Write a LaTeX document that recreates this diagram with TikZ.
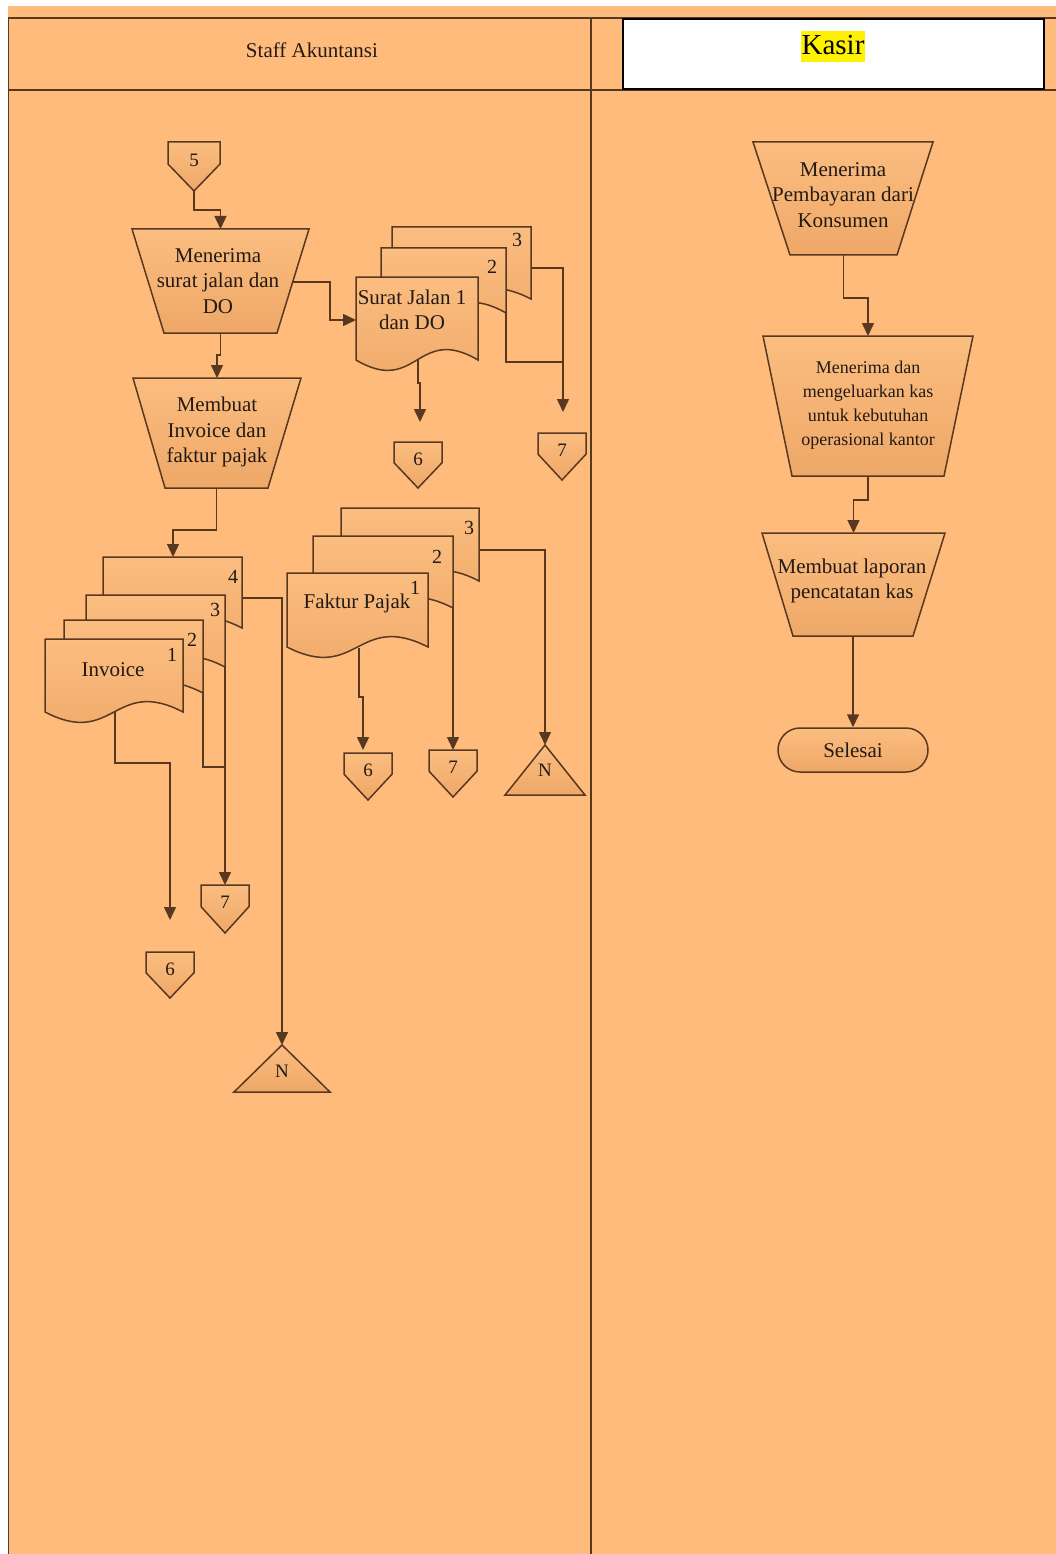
\documentclass[tikz,border=0pt]{standalone}
\usepackage{fontspec}
\setmainfont{Liberation Serif}
\usetikzlibrary{arrows.meta}

\definecolor{lanebg}{RGB}{254,187,124}
\definecolor{shapetop}{RGB}{251,189,128}
\definecolor{shapebot}{RGB}{238,168,104}
\definecolor{ink}{RGB}{88,57,32}
\definecolor{txt}{RGB}{35,26,20}

\tikzset{
  laneline/.style={draw=ink, line width=1.8pt},
  flowshape/.style={draw=ink, line width=1.5pt, top color=shapetop, bottom color=shapebot},
  conn/.style={draw=ink, line width=1.5pt},
  arr/.style={conn, -{Triangle[length=13pt,width=12pt]}},
  lbl/.style={text=txt, font=\fontsize{21}{25.5}\selectfont, align=center, inner sep=0pt},
  smalllbl/.style={lbl, font=\fontsize{18}{24}\selectfont},
  copyno/.style={lbl, font=\fontsize{20}{22}\selectfont},
  refno/.style={lbl, font=\fontsize{19}{20}\selectfont},
}

% manual operation (trapezium): name, top y, bottom y, top-left x, top-right x, bottom-left x, bottom-right x
\newcommand{\manop}[7]{%
  \path[flowshape] (#4,#2) -- (#5,#2) -- (#7,#3) -- (#6,#3) -- cycle;
  \coordinate (#1-n) at ({(#4+#5)/2},#2);
  \coordinate (#1-s) at ({(#6+#7)/2},#3);
}
% off-page reference: name, centre x, top y, width, height
\newcommand{\offpage}[5]{%
  \path[flowshape] ({#2-#4/2},#3) -- ({#2+#4/2},#3) -- ({#2+#4/2},{#3+0.45*#5})
    -- (#2,{#3+#5}) -- ({#2-#4/2},{#3+0.45*#5}) -- cycle;
  \coordinate (#1-n) at (#2,#3);
  \coordinate (#1-s) at (#2,{#3+#5});
}
% offline storage triangle: name, apex x, apex y, base y, half width
\newcommand{\mergetri}[5]{%
  \path[flowshape] (#2,#3) -- ({#2+#5},#4) -- ({#2-#5},#4) -- cycle;
  \coordinate (#1-n) at (#2,#3);
}
% document sheet with wavy lower edge: name, left, top, right, bottom
\newcommand{\docsh}[5]{%
  \path[flowshape] (#2,#3) -- (#4,#3) -- (#4,#5)
    .. controls ({(#2+#4)/2},{#5-36}) and ({(#2+#4)/2},{#5+36}) .. (#2,#5) -- cycle;
  \coordinate (#1-se) at (#4,#5);
}

\begin{document}
\begin{tikzpicture}[x=1pt,y=-1pt]
\useasboundingbox (0,0) rectangle (1056,1554);
\fill[white] (0,0) rectangle (1056,1554);
\fill[lanebg] (8,6) rectangle (1056,1554);

% swimlane frame
\draw[laneline] (8,18) -- (1056,18);
\draw[laneline] (8,90) -- (1056,90);
\draw[laneline] (8.5,18) -- (8.5,1554);
\draw[laneline] (591,18) -- (591,1554);

\node[draw=black, line width=2pt, fill=white, minimum width=421pt, minimum height=70pt, inner sep=0pt] (kasirbox) at (833.5,54) {};
\node[fill=yellow, text=black, inner xsep=1pt, inner ysep=0pt, text height=23pt, text depth=8pt,
      font=\fontsize{29}{30}\selectfont] (kasir) at (833,47) {Kasir};
\node[text=txt, font=\fontsize{21}{22}\selectfont, inner sep=0pt] (staff) at (312,50) {Staff Akuntansi};

% ---------------- Staff Akuntansi ----------------
\offpage{o5}{194}{142}{52}{49}
\node[refno] (n5) at (194,160) {5};

\manop{t1}{229}{333}{132}{309}{164}{277}
\node[lbl] (t1txt) at (218,281) {Menerima\\surat jalan dan\\DO};
\manop{t2}{378}{488}{133}{301}{165}{268}
\node[lbl] (t2txt) at (217,432) {Membuat\\Invoice dan\\faktur pajak};

% surat jalan + DO, three copies
\docsh{s3}{392}{227}{531}{299}
\docsh{s2}{381}{248}{506}{313}
\docsh{s1}{356}{277}{478}{360}
\node[lbl] (s1txt) at (412,310) {Surat Jalan 1\\dan DO};
\node[copyno] (s3no) at (517,240) {3};
\node[copyno] (s2no) at (492,267) {2};
\offpage{o6a}{418}{442}{48}{46}
\node[refno] (n6a) at (418,459) {6};
\offpage{o7a}{562}{433}{48}{47}
\node[refno] (n7a) at (562,450) {7};

% invoice, four copies
\docsh{i4}{103}{557}{242}{628}
\docsh{i3}{86}{595}{225}{667}
\docsh{i2}{64}{620}{203}{693}
\docsh{i1}{45}{639}{183}{712}
\node[lbl] (i1txt) at (113,670) {Invoice};
\node[copyno] (i4no) at (233,577) {4};
\node[copyno] (i3no) at (215,610) {3};
\node[copyno] (i2no) at (192,640) {2};
\node[copyno] (i1no) at (172,655) {1};
\offpage{o6b}{170}{952}{48}{46}
\node[refno] (n6b) at (170,969) {6};
\offpage{o7b}{225}{885}{48}{48}
\node[refno] (n7b) at (225,902) {7};
\mergetri{m1}{282}{1045}{1092}{48}
\node[refno] (nm1) at (282,1071) {N};

% faktur pajak, three copies
\docsh{f3}{341}{508}{479}{581}
\docsh{f2}{313}{536}{453}{608}
\docsh{f1}{287}{573}{428}{647}
\node[lbl] (f1txt) at (357,603) {Faktur Pajak};
\node[copyno] (f1no) at (415,588) {1};
\node[copyno] (f3no) at (469,528) {3};
\node[copyno] (f2no) at (437,557) {2};
\offpage{o6c}{368}{753}{48}{47}
\node[refno] (n6c) at (368,770) {6};
\offpage{o7c}{453}{750}{48}{47}
\node[refno] (n7c) at (453,767) {7};
\mergetri{m2}{545}{745}{795}{40}
\node[refno] (nm2) at (545,770) {N};

% ---------------- Kasir ----------------
\manop{ta}{142}{255}{753}{933}{790}{897}
\node[lbl] (tatxt) at (843,195) {Menerima\\Pembayaran dari\\Konsumen};
\manop{tb}{336}{476}{763}{973}{792}{944}
\node[smalllbl] (tbtxt) at (868,405) {Menerima dan\\mengeluarkan kas\\untuk kebutuhan\\operasional kantor};
\manop{tc}{533}{636}{762}{945}{793}{913}
\node[lbl] (tctxt) at (852,581) {Membuat laporan\\pencatatan kas};
\node[flowshape, lbl, rounded corners=22pt, minimum width=150pt, minimum height=44pt] (sel) at (853,750) {Selesai};

% ---------------- connectors ----------------
\coordinate (t1-e) at (293,282);
\coordinate (s1-w) at (356,320);
\coordinate (s1-b) at (418,360);
\coordinate (s3-e) at (531,268);
\coordinate (tip6a) at (420,422);
\coordinate (tip7a) at (563,412);
\coordinate (join-s) at (563,362);

\draw[arr] (o5-s) -- ++(0,19) -| (t1-n);
\draw[arr] (t1-s) -- ++(0,22) -| (t2-n);
\draw[arr] (t1-e) -- ++(37,0) |- (s1-w);
\draw[arr] (s1-b) -- ++(0,23) -| (tip6a);
\draw[conn] (s2-se) |- (join-s);
\draw[arr] (s3-e) -| (tip7a);

\coordinate (i1-b) at (115,712);
\coordinate (tip6b) at (170,920);
\coordinate (join-i) at (225,767);
\coordinate (i4-e) at (242,598);
\coordinate (i4-n) at (173,557);

\draw[arr] (t2-s) -- ++(0,42) -| (i4-n);
\draw[arr] (i1-b) -- ++(0,51) -| (tip6b);
\draw[conn] (i2-se) |- (join-i);
\draw[arr] (i3-se) -- (o7b-n);
\draw[arr] (i4-e) -| (m1-n);

\coordinate (f1-b) at (359,648);
\coordinate (tip6c) at (363,750);
\coordinate (f3-e) at (479,550);

\draw[arr] (f1-b) -- ++(0,49) -| (tip6c);
\draw[arr] (f2-se) -- (o7c-n);
\draw[arr] (f3-e) -| (m2-n);

\draw[arr] (ta-s) -- ++(0,43) -| (tb-n);
\draw[arr] (tb-s) -- ++(0,24) -| (tc-n);
\draw[arr] (tc-s) -- (sel.north);
\end{tikzpicture}
\end{document}
